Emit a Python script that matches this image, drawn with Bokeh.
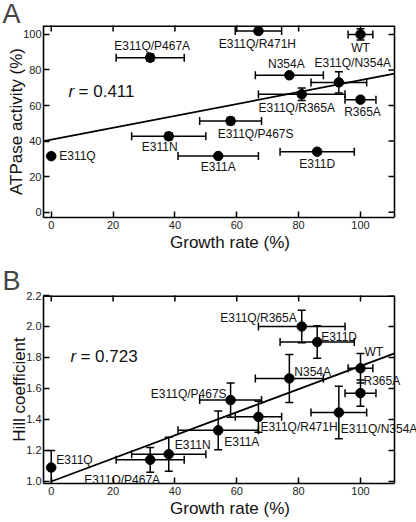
import numpy as np
from bokeh.plotting import figure
from bokeh.models import (ColumnDataSource, Whisker, FixedTicker, Span,
                          PrintfTickFormatter, Range1d, TeeHead)
from bokeh.layouts import column
from bokeh.embed import file_html
from bokeh.resources import INLINE
from bokeh.core.properties import value

# ---------------- data ----------------
mutants = ["WT", "E311Q", "E311N", "E311A", "E311D", "E311Q/P467A",
           "E311Q/P467S", "E311Q/R471H", "N354A", "E311Q/N354A", "R365A",
           "E311Q/R365A"]
growth = [100, 0, 38, 54, 86, 32, 58, 67, 77, 93, 100, 81]
growth_err = [4, 0, 12, 13, 12, 11, 10, 7.5, 11, 9, 5, 14]
atpase = [100, 31.5, 42.7, 31.6, 34.0, 86.9, 51.3, 101.9, 77, 73, 63.3, 66.3]
atpase_err = [3.2, 0, 2, 0, 0, 2, 2, 1.5, 0, 6, 0, 3.5]
hill = [1.73, 1.09, 1.176, 1.33, 1.90, 1.14, 1.525, 1.417, 1.665, 1.445, 1.57, 2.0]
hill_err = [0.095, 0.11, 0.11, 0.125, 0.105, 0.08, 0.11, 0.10, 0.155, 0.17, 0.085, 0.105]

r_atpase = "0.411"
r_hill = "0.723"
fit_atpase = (40.8, 0.334)     # intercept, slope
fit_hill = (1.0, 0.00745)

x_ticks = [0, 20, 40, 60, 80, 100]
y_ticks_a = [0, 20, 40, 60, 80, 100]
y_ticks_b = [1.0, 1.2, 1.4, 1.6, 1.8, 2.0, 2.2]

# ---------------- label placement (style) ----------------
# (align, dx, dy) in screen pixels, dy positive = down
lab_a = {"WT": ("center", 0, 14), "E311Q": ("left", 8, 0),
         "E311N": ("center", -9, 11), "E311A": ("center", 0, 11),
         "E311D": ("center", 0, 12), "E311Q/P467A": ("center", 2, -12),
         "E311Q/P467S": ("center", 25, 13), "E311Q/R471H": ("center", -1, 13),
         "N354A": ("center", -3, -11), "E311Q/N354A": ("center", 14, -19),
         "R365A": ("center", 2, 12), "E311Q/R365A": ("center", -5, 14)}
lab_b = {"WT": ("left", 4, -16), "E311Q": ("left", 5, -8),
         "E311N": ("left", 6, -9), "E311A": ("left", 6, 12),
         "E311D": ("left", 4, -5), "E311Q/P467A": ("center", -28, 20),
         "E311Q/P467S": ("right", -4, -6), "E311Q/R471H": ("left", 2, 10),
         "N354A": ("left", 5, -6), "E311Q/N354A": ("left", 2, 16),
         "R365A": ("left", 3, -12), "E311Q/R365A": ("right", -5, -8)}

FONT = "Liberation Sans"
W = 416
LEFT = 43
X_MIN, X_MAX = -2.5, 111.0          # visible box
BOX_W = 351                          # visible box width in px
PX_PER_UNIT = BOX_W / (X_MAX - X_MIN)
X_FRAME_MAX = X_MIN + (W - LEFT) / PX_PER_UNIT   # frame runs to canvas edge
TICK = 6


def make_panel(yvals, yerr, y_range, yticks, yfmt, ylabel, fit, fit_x0,
               r_text, r_pos, labels, letter, height, top, bottom, title_standoff):
    p = figure(width=W, height=height, output_backend="svg",
               toolbar_location=None, x_range=Range1d(X_MIN, X_FRAME_MAX),
               y_range=Range1d(*y_range), min_border_left=LEFT,
               min_border_right=0, min_border_top=top,
               min_border_bottom=bottom)
    p.grid.grid_line_color = None
    p.outline_line_color = None
    p.background_fill_color = "white"
    p.border_fill_color = "white"

    # panel letter as the title
    p.title.text = letter
    p.title.text_font = FONT
    p.title.text_font_style = "normal"
    p.title.text_font_size = "27px"
    p.title.standoff = title_standoff
    p.title.align = "left"
    p.title.offset = -41

    for ax in (p.xaxis[0], p.yaxis[0]):
        ax.major_tick_in = TICK
        ax.major_tick_out = 0
        ax.minor_tick_line_color = None
        ax.major_tick_line_width = 1.5
        ax.axis_line_width = 1.6
        ax.axis_line_color = "black"
        ax.major_tick_line_color = "black"
        ax.major_label_text_font = FONT
        ax.major_label_text_font_size = "11px"
        ax.major_label_text_color = "#222222"
        ax.major_label_standoff = 2
        ax.axis_label_text_font = FONT
        ax.axis_label_text_font_style = "normal"
        ax.axis_label_text_color = "#111111"
        ax.axis_label_text_font_size = "17px"

    p.xaxis.ticker = FixedTicker(ticks=x_ticks)
    p.yaxis.ticker = FixedTicker(ticks=yticks)
    p.yaxis.formatter = PrintfTickFormatter(format=yfmt)
    p.xaxis.bounds = (X_MIN, X_MAX)
    p.xaxis.axis_label = "Growth rate (%)"
    p.yaxis.axis_label = ylabel
    p.xaxis.axis_label_standoff = 1
    p.xaxis.major_label_standoff = 3
    p.yaxis.axis_label_standoff = -6

    # the rest of the box: top edge (half clipped) and right edge
    y_top = y_range[1]
    p.segment(x0=[X_MIN], y0=[y_top], x1=[X_MAX], y1=[y_top],
              line_color="black", line_width=3.2)
    p.add_layout(Span(location=X_MAX, dimension="height", line_color="black",
                      line_width=1.6))
    # mirrored inward ticks
    p.scatter(x=x_ticks, y=[y_top] * len(x_ticks), marker="dash",
              angle=np.pi / 2, size=2 * TICK, line_color="black", line_width=1.5)
    tick_units = TICK / PX_PER_UNIT
    p.segment(x0=[X_MAX - tick_units] * len(yticks), y0=yticks,
              x1=[X_MAX] * len(yticks), y1=yticks,
              line_color="black", line_width=1.5)

    g = np.array(growth, dtype=float)
    ge = np.array(growth_err, dtype=float)
    yv = np.array(yvals, dtype=float)
    ye = np.array(yerr, dtype=float)
    src = ColumnDataSource(dict(x=g, y=yv, xl=g - ge, xu=g + ge,
                                yl=yv - ye, yu=yv + ye))

    # regression line
    x_line = np.array([fit_x0, X_MAX])
    p.line(x_line, fit[0] + fit[1] * x_line, line_color="black", line_width=1.8)

    for dim, base, lo, hi in (("width", "y", "xl", "xu"),
                              ("height", "x", "yl", "yu")):
        w = Whisker(source=src, base=base, lower=lo, upper=hi, dimension=dim,
                    line_color="black", line_width=1.5,
                    upper_head=TeeHead(size=8, line_width=1.5, line_color="black"),
                    lower_head=TeeHead(size=8, line_width=1.5, line_color="black"))
        p.add_layout(w)

    p.scatter("x", "y", source=src, size=9.5, color="black")

    for i, name in enumerate(mutants):
        align, dx, dy = labels[name]
        p.text(x=[growth[i]], y=[yvals[i]], text=[name], x_offset=dx,
               y_offset=dy, text_align=align, text_baseline="middle",
               text_font=value(FONT), text_font_size="12px",
               text_color="#111111")

    # r annotation
    p.text(x=[r_pos[0]], y=[r_pos[1]], text=["r"], text_font=value(FONT),
           text_font_style="italic", text_font_size="17px",
           text_baseline="middle", text_color="#111111")
    p.text(x=[r_pos[0]], y=[r_pos[1]], text=["= " + r_text], x_offset=10,
           text_font=value(FONT), text_font_size="17px",
           text_baseline="middle", text_color="#111111")
    return p


pa = make_panel(atpase, atpase_err, (-3, 105), y_ticks_a, "%d",
                "ATPase activity (%)", fit_atpase, X_MIN, r_atpase, (5.6, 67.6),
                lab_a, "A", 260, 25, 43, -7)
pb = make_panel(hill, hill_err, (0.987, 2.2), y_ticks_b, "%.1f",
                "Hill coefficient", fit_hill, 0.0, r_hill, (6.2, 1.806),
                lab_b, "B", 260, 35, 37, 0)

layout = column(pa, pb, spacing=0)
open("out.html", "w").write(file_html(layout, INLINE))
